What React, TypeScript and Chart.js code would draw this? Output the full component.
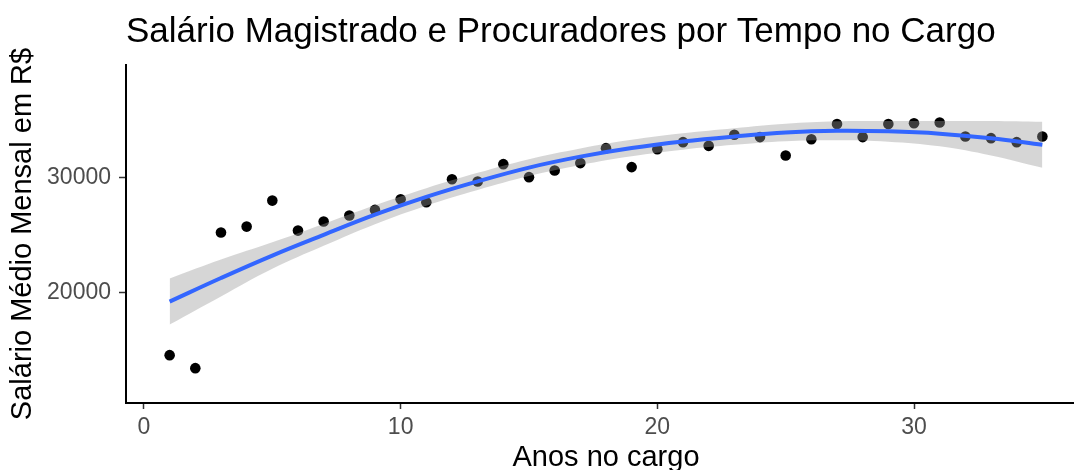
import React, { useEffect, useRef } from 'react';
import { Chart, registerables } from 'chart.js';

Chart.register(...registerables);

// ---- data ----
const years = [
  1, 2, 3, 4, 5, 6, 7, 8, 9, 10, 11, 12, 13, 14, 15, 16, 17, 18,
  19, 20, 21, 22, 23, 24, 25, 26, 27, 28, 29, 30, 31, 32, 33, 34, 35,
];
const salaries = [
  14540, 13410, 25200, 25720, 27980, 25370, 26160, 26680, 27170, 28100,
  27840, 29840, 29640, 31150, 30020, 30590, 31240, 32540, 30890, 32450,
  33060, 32740, 33700, 33500, 31900, 33320, 34630, 33500, 34630, 34710,
  34770, 33550, 33410, 33060, 33550,
];

const fitYears = [1, 3, 5, 7, 9, 11, 13, 15, 17, 19, 21, 23, 25, 27, 29, 31, 33, 35];
const fitMean = [
  19200, 21250, 23200, 25000, 26750, 28300, 29650, 30850, 31800, 32550,
  33120, 33550, 33900, 34050, 34000, 33800, 33400, 32830,
];
const fitUpper = [
  21200, 22850, 24350, 25950, 27570, 29060, 30390, 31580, 32520, 33260,
  33830, 34270, 34660, 34880, 34900, 34900, 34900, 34830,
];
const fitLower = [
  17200, 19650, 22050, 24050, 25930, 27540, 28910, 30120, 31080, 31840,
  32410, 32830, 33140, 33220, 33100, 32700, 31900, 30830,
];

const xTicks = [0, 10, 20, 30];
const yTicks = [20000, 30000];

const chartTitle = 'Salário Magistrado e Procuradores por Tempo no Cargo';
const xTitle = 'Anos no cargo';
const yTitle = 'Salário Médio Mensal em R$';

const FONT = "'Liberation Sans', Arial, sans-serif";

export default function App() {
  const ref = useRef<HTMLCanvasElement>(null);

  useEffect(() => {
    const canvas = ref.current;
    if (!canvas) return;
    const chart = new Chart(canvas, {
      type: 'scatter',
      data: {
        datasets: [
          {
            label: 'fit',
            data: fitYears.map((x, i) => ({ x, y: fitMean[i] })),
            showLine: true,
            borderColor: '#3366FF',
            backgroundColor: '#3366FF',
            borderWidth: 4,
            pointRadius: 0,
            tension: 0.4,
            fill: false,
            order: 0,
          },
          {
            label: 'upper',
            data: fitYears.map((x, i) => ({ x, y: fitUpper[i] })),
            showLine: true,
            borderColor: 'rgba(0,0,0,0)',
            borderWidth: 0,
            pointRadius: 0,
            tension: 0.4,
            fill: '+1',
            backgroundColor: 'rgba(153,153,153,0.4)',
            order: 1,
          },
          {
            label: 'lower',
            data: fitYears.map((x, i) => ({ x, y: fitLower[i] })),
            showLine: true,
            borderColor: 'rgba(0,0,0,0)',
            borderWidth: 0,
            pointRadius: 0,
            tension: 0.4,
            fill: false,
            backgroundColor: 'rgba(0,0,0,0)',
            order: 2,
          },
          {
            label: 'points',
            data: years.map((x, i) => ({ x, y: salaries[i] })),
            showLine: false,
            pointRadius: 5.3,
            pointBackgroundColor: '#000000',
            pointBorderWidth: 0,
            pointBorderColor: 'rgba(0,0,0,0)',
            order: 3,
          },
        ],
      },
      options: {
        responsive: false,
        animation: false,
        devicePixelRatio: 1,
        layout: { padding: { top: 0, left: 0, right: 14, bottom: 0 } },
        plugins: {
          legend: { display: false },
          tooltip: { enabled: false },
          title: {
            display: true,
            text: chartTitle,
            align: 'start',
            fullSize: false,
            color: '#000000',
            font: { family: FONT, size: 35, weight: 'normal', lineHeight: 1.2 },
            padding: { top: 11, bottom: 12 },
          },
        },
        scales: {
          x: {
            type: 'linear',
            min: -0.7,
            max: 36.7,
            afterBuildTicks: (s: any) => {
              s.ticks = xTicks.map((v) => ({ value: v }));
            },
            afterFit: (s: any) => {
              s.height = 87;
            },
            grid: {
              display: true,
              drawOnChartArea: false,
              drawTicks: true,
              tickLength: 6,
              tickColor: '#333333',
              tickWidth: 1.5,
            },
            border: { display: true, color: '#000000', width: 2 },
            ticks: {
              color: '#4D4D4D',
              font: { family: FONT, size: 23 },
              padding: 5,
              maxRotation: 0,
              autoSkip: false,
              callback: (v: any) => String(v),
            },
            title: {
              display: true,
              text: xTitle,
              color: '#000000',
              font: { family: FONT, size: 29, lineHeight: 1.2 },
              padding: { top: 0, bottom: 15 },
            },
          },
          y: {
            type: 'linear',
            min: 10380,
            max: 39770,
            afterBuildTicks: (s: any) => {
              s.ticks = yTicks.map((v) => ({ value: v }));
            },
            afterFit: (s: any) => {
              s.width = 126;
            },
            grid: {
              display: true,
              drawOnChartArea: false,
              drawTicks: true,
              tickLength: 7,
              tickColor: '#333333',
              tickWidth: 1.5,
            },
            border: { display: true, color: '#000000', width: 2 },
            ticks: {
              color: '#4D4D4D',
              font: { family: FONT, size: 23 },
              padding: 8,
              autoSkip: false,
              callback: (v: any) => String(v),
            },
            title: {
              display: true,
              text: yTitle,
              color: '#000000',
              font: { family: FONT, size: 29, lineHeight: 1.2 },
              padding: { top: 6, bottom: 0 },
            },
          },
        },
      },
    } as any);
    return () => chart.destroy();
  }, []);

  return (
    <div style={{ position: 'fixed', left: 0, top: 0, background: '#ffffff' }}>
      <canvas
        ref={ref}
        width={1100}
        height={490}
        style={{ width: '1100px', height: '490px', display: 'block' }}
      />
    </div>
  );
}
